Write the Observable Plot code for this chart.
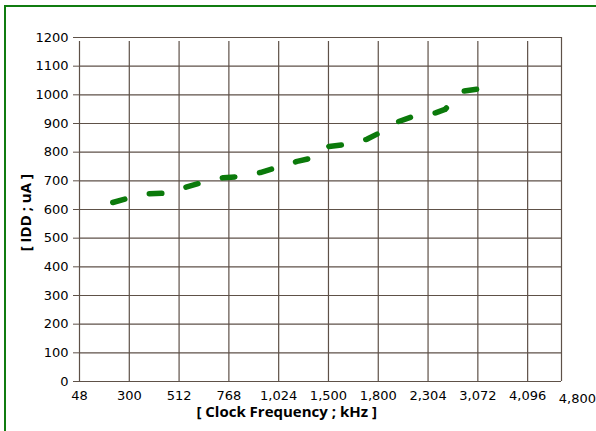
<!DOCTYPE html>
<html><head><meta charset="utf-8">
<script src="https://cdn.jsdelivr.net/npm/d3@7"></script>
<script src="https://cdn.jsdelivr.net/npm/@observablehq/plot@0.6"></script>
<style>
body{margin:0;background:#fff;overflow:hidden;width:596px;height:431px}
#frame{position:absolute;left:4px;top:5px;width:640px;height:480px;border:2px solid #107c10;}
#chart{position:absolute;left:0;top:0}
</style></head><body><div id="frame"></div><div id="chart"></div>
<script>
const categories = ["48","300","512","768","1,024","1,500","1,800","2,304","3,072","4,096","4,800"];
const yTicks = [0,100,200,300,400,500,600,700,800,900,1000,1100,1200];
// x positions in category-index units, IDD in uA
const xPos = [0.62,1.01,1.39,1.76,2.14,2.48,2.89,3.25,3.63,4.00,4.37,4.71,5.01,5.38,5.77,6.08,6.41,6.75,7.15,7.34,7.43,7.68,8.05];
const idd  = [622,641,655,657,678,695,711,715,729,748,768,781,820,827,845,872,907,928,937,949,965,1012,1021];
const xTitle = "[ Clock Frequency ; kHz ]";
const yTitle = "[ IDD ; uA ]";

const data = xPos.map((x, i) => ({x, y: idd[i]}));
const gridIdx = categories.slice(0, 10).map((c, i) => i);
const lastIdx = categories.length - 1;
const gridColor = "#5e5148";

const plot = Plot.plot({
  width: 596, height: 431,
  marginLeft: 79, marginRight: 35, marginTop: 37, marginBottom: 50,
  style: {fontFamily: "DejaVu Sans", fontSize: "13px", color: "#000", background: "transparent"},
  x: {domain: [0, 9.68], axis: null},
  y: {domain: [0, 1200], axis: null},
  marks: [
    Plot.ruleY(yTicks, {stroke: gridColor, strokeWidth: 1.2}),
    Plot.ruleX(gridIdx, {y1: 0, y2: 1200, insetBottom: -4, stroke: gridColor, strokeWidth: 1.2}),
    Plot.ruleX([9.68], {y1: 0, y2: 1200, stroke: gridColor, strokeWidth: 1.2}),
    Plot.axisY(yTicks, {tickSize: 6, tickPadding: 5, stroke: gridColor, label: null, fontSize: 13, tickFormat: d => String(d)}),
    Plot.axisX(gridIdx, {tickSize: 0, tickPadding: 9, tickFormat: i => categories[i], label: null, fontSize: 13}),
    Plot.text([categories[lastIdx]], {x: lastIdx, y: 0, dy: 17, text: d => d, fontSize: 13, lineAnchor: "middle"}),
    Plot.text([xTitle], {x: 4.16, y: 0, dy: 31, text: d => d, fontFamily: "Open Sans", fontWeight: "bold", fontSize: 15, lineAnchor: "middle"}),
    Plot.text([yTitle], {y: 589, frameAnchor: "left", dx: -53, rotate: -90, text: d => d, fontFamily: "Open Sans", fontWeight: "bold", fontSize: 15, textAnchor: "middle", lineAnchor: "middle"}),
    Plot.line(data, {x: "x", y: "y", stroke: "#0b7a0b", strokeWidth: 5.5, strokeDasharray: "12.5,25.1", strokeDashoffset: -2.5, strokeLinecap: "round", strokeLinejoin: "round"})
  ]
});
document.getElementById("chart").append(plot);
</script></body></html>
